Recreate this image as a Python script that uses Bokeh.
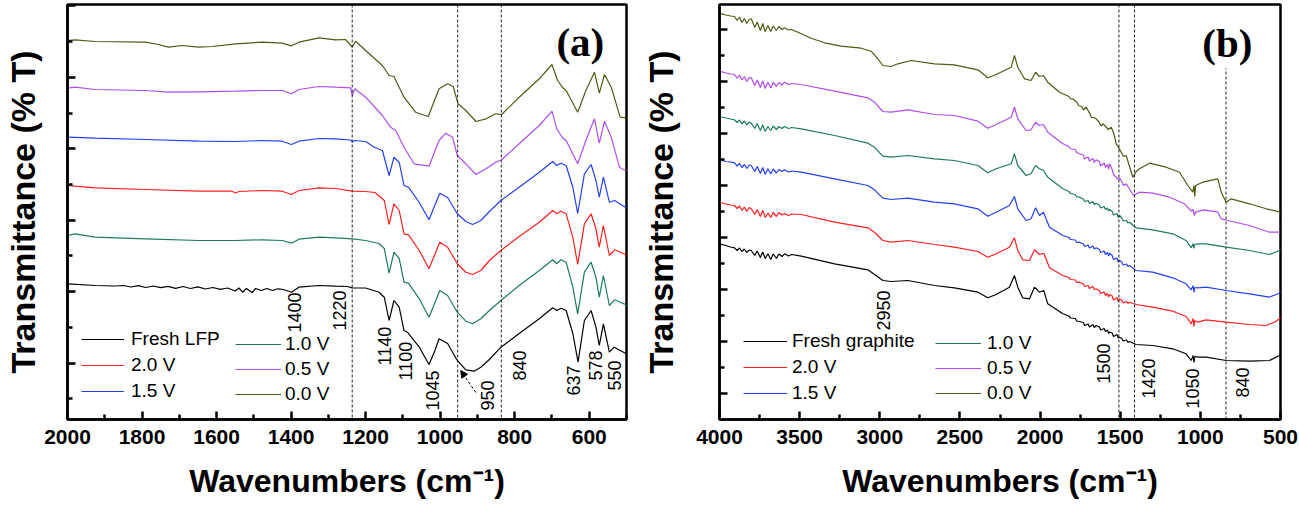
import math
from bokeh.plotting import figure
from bokeh.models import (Range1d, FixedTicker, CustomJSTickFormatter, Span, Legend,
                          LegendItem, Label, Arrow, NormalHead)
from bokeh.layouts import row
from bokeh.embed import file_html
from bokeh.resources import INLINE
from bokeh.core.properties import value

FONT = "Liberation Sans"

# ---------------- Panel (a): LFP cathode, (wavenumber cm-1, transmittance a.u.) ----------------
a_fresh = [(2000,135.7),(1926,134),(1872,133.5),(1850,134),(1830,132.5),(1810,133.8),(1790,132),(1770,133.5),
           (1750,131.8),(1730,133.2),(1710,131.2),(1690,133),(1670,131),(1650,132.7),(1630,130.5),(1610,132),
           (1590,130.2),(1570,131.5),(1550,128.5),(1540,131.5),(1530,127.3),(1520,131),(1505,127),(1495,131),
           (1480,129),(1465,131),(1450,129),(1435,130.7),(1420,130),(1399,127.3),(1379,132.3),(1325,134),
           (1281,133.3),(1249,133),(1236,131.7),(1200,131.5),(1164,127.3),(1150,122.3),(1137,99),(1124,119),
           (1110,112.3),(1097,89),(1088,87.3),(1056,72.3),(1030,55),(1015,68),(1003,80.7),(980,76),(954,59),
           (931,49.7),(909,48.3),(891,52.3),(868,60),(837,72.3),(788,86),(734,100.7),(698,111.7),(687,109),
           (676,111.3),(662,109),(644,86),(630,57.3),(613,99),(595,109),(582,92.3),(573,74),(562,95.7),
           (546,67.3),(533,72.3),(503,66.3),(500,66)]
a_20 = [(2000,234),(1980,233.3),(1926,231.7),(1791,230),(1648,228.3),(1560,228.5),(1549,226.5),(1540,228),
        (1478,229),(1424,228.3),(1399,225),(1379,229),(1325,231.7),(1281,231),(1236,228.3),(1200,228),
        (1175,227),(1150,219),(1137,195),(1124,215.7),(1110,209),(1097,185.7),(1085,184.7),(1056,169),
        (1030,150.7),(1001,177.3),(980,172.3),(954,155.7),(931,147.3),(913,145),(891,149),(868,159),(837,169),
        (788,183),(734,197.3),(698,209),(687,205.7),(676,208.3),(662,205.7),(644,182.3),(631,155),(613,195.7),
        (595,205.7),(582,190.7),(573,172.3),(562,194),(546,164),(532,169.7),(503,165),(500,164)]
a_15 = [(2000,282.3),(1926,281.3),(1791,280),(1648,278.3),(1549,278),(1478,279),(1424,278.3),(1399,275),
        (1379,278.3),(1325,281),(1281,280.7),(1240,279.5),(1236,277.5),(1230,279),(1200,278),(1177,272.3),
        (1155,269),(1137,244),(1124,262.3),(1110,257.3),(1097,234),(1085,232.3),(1056,217),(1030,199.7),
        (1001,226.3),(980,222),(954,205.7),(931,198),(913,195),(891,199),(868,208),(837,219),(788,232.3),
        (734,247.3),(698,258),(687,254),(676,256.3),(662,254),(644,232.3),(631,206),(613,245.7),(595,255),
        (582,239),(573,222.3),(562,242.3),(546,217.3),(532,219),(503,212.3),(500,212)]
a_10 = [(2000,184),(1980,185.7),(1926,182.3),(1791,180.7),(1648,179),(1549,179),(1478,179.7),(1424,179),
        (1399,176.3),(1379,180.3),(1325,182.3),(1281,181.7),(1236,180.7),(1200,179),(1164,176),(1150,171),
        (1137,146.3),(1124,167.3),(1110,161),(1097,137.3),(1085,136.3),(1056,120.7),(1030,102.3),(1001,129),
        (980,124),(954,107.3),(931,98.3),(913,95.7),(891,100.7),(868,109),(837,119),(788,134),(734,149),
        (698,159.7),(687,155.7),(676,159.7),(662,157.3),(644,132.3),(631,105.7),(613,147.3),(595,157.3),
        (582,142.3),(573,122.3),(562,144),(546,114),(532,119.7),(503,115),(500,114)]
a_05 = [(2000,331.3),(1980,332.3),(1926,330),(1791,329),(1729,327.3),(1648,327.7),(1549,328.3),(1478,329),
        (1424,329),(1399,325.7),(1379,330),(1325,333),(1281,332.3),(1240,331.7),(1236,324),(1229,330.7),
        (1200,322.3),(1155,304),(1133,292.3),(1119,289),(1097,272.3),(1070,255.7),(1030,253.3),(1003,279),
        (985,286.3),(967,282.3),(954,264),(931,255.7),(904,245),(877,250.7),(851,257.3),(835,259.7),
        (788,275.7),(734,294),(700,308.3),(687,290.7),(673,282.3),(662,279),(631,255.7),(609,279),
        (586,300.7),(573,276.3),(559,298.3),(541,282.3),(519,252.3),(503,249),(500,249)]
a_00 = [(2000,379),(1980,379.7),(1926,378),(1791,377.3),(1756,375),(1729,372.3),(1693,374),(1648,372.3),
        (1612,373),(1549,375.7),(1478,377.3),(1424,376.3),(1399,373.7),(1379,377.3),(1325,381.7),(1281,379.7),
        (1254,380),(1236,372.3),(1227,378.3),(1200,369),(1155,354),(1137,344),(1124,343),(1097,322.3),
        (1066,307.3),(1032,303),(1003,330.7),(980,335.7),(965,333),(952,315.7),(931,309),(904,298),
        (877,300.7),(851,305.7),(835,305),(788,322.3),(734,340.7),(700,355),(685,339),(671,331.7),(662,329),
        (631,307.3),(609,329),(586,347.3),(573,326.3),(559,345),(541,332.3),(517,302.3),(503,301.7),(500,301.5)]

a_names = ["Fresh LFP", "2.0 V", "1.5 V", "1.0 V", "0.5 V", "0.0 V"]
a_series = [a_fresh, a_20, a_15, a_10, a_05, a_00]
a_vlines = [1236, 953, 836]
a_labels = ["1400", "1220", "1140", "1100", "1045", "950", "840", "637", "578", "550"]
a_label_x = [1392, 1270, 1150, 1094, 1021, 873, 788, 642, 582, 533]
a_label_y = [87, 89, 54, 39, 9, 9, 39, 24, 39, 29]
a_arrow = (904, 27, 945, 49)
a_xticks = [2000, 1800, 1600, 1400, 1200, 1000, 800, 600]
a_xminor = [1900, 1700, 1500, 1300, 1100, 900, 700, 500]
a_yticks = [56.5, 128, 199.5, 271, 342.3, 413.8]
a_yminor = [21, 92, 163.7, 235, 306.3, 378.3]

# ---------------- Panel (b): graphite anode ----------------
b_fresh = [(4000,175.7),(3960,174),(3930,172.5),(3906,171.7),(3890,169),(3875,171.5),(3860,168),(3845,170.5),
           (3830,167),(3815,169.5),(3802,169),(3780,164),(3765,168.5),(3745,162),(3730,167.5),(3715,161),
           (3698,165.7),(3680,160),(3665,165.5),(3645,161),(3630,165.5),(3610,163),(3594,165.7),(3570,163.5),
           (3550,165),(3490,163.3),(3282,155.7),(3074,149.7),(3033,145),(2981,139),(2929,138),(2825,139),
           (2659,134),(2534,131.7),(2388,127.3),(2326,121.7),(2274,125),(2191,132.3),(2160,144),(2139,132.3),
           (2108,121.7),(2066,120.7),(2035,132.3),(2004,127.3),(1977,129),(1952,115.7),(1858,105.7),(1820,103.5),
           (1810,101.5),(1780,101),(1772,98.5),(1754,98),(1730,97),(1722,94),(1700,95.5),(1692,92.5),(1670,95),
           (1662,92),(1650,94),(1630,92.5),(1622,89.5),(1600,91),(1592,88),(1580,89.5),(1572,86),(1567,87.3),
           (1550,86.5),(1542,83),(1520,85),(1512,81.5),(1504,82.3),(1490,81),(1482,78.5),(1460,79.5),(1452,77),
           (1442,78),(1401,75),(1297,74),(1172,70.7),(1089,65.7),(1057,59),(1045,64),(1040,57),(1035,63),
           (1016,62.3),(964,62.3),(839,59),(693,58.3),(569,59),(506,64),(500,66)]
b_20 = [(4000,217.3),(3960,215.5),(3930,214.5),(3906,214),(3890,211),(3875,213.5),(3860,209),(3845,212.5),
        (3830,208),(3815,212),(3802,210.7),(3780,205),(3765,210),(3745,203),(3730,209),(3715,202),(3698,206.3),
        (3680,202),(3665,207),(3645,203),(3630,207),(3610,204.5),(3594,206),(3570,204),(3550,205.5),(3490,205),
        (3282,197.3),(3074,191.7),(3033,187.3),(2981,179),(2929,177.3),(2825,179),(2659,175),(2534,172.3),
        (2388,168),(2326,162.3),(2274,165.7),(2191,172.3),(2160,181.7),(2139,169),(2108,159.7),(2066,159),
        (2035,169.7),(2004,165),(1977,166.3),(1941,151.7),(1858,144),(1820,142),(1810,140),(1780,139.5),
        (1772,137),(1754,137.3),(1730,135.5),(1722,133),(1700,134),(1692,131),(1670,133),(1662,130),(1650,130.7),
        (1630,129),(1622,126),(1600,127.5),(1592,124),(1580,126),(1572,122.5),(1567,125),(1550,123.5),
        (1542,119.5),(1520,122),(1512,118),(1504,120.7),(1490,119),(1482,116.5),(1460,118),(1452,116),
        (1442,117.3),(1401,115),(1297,112.3),(1172,108.3),(1089,103),(1057,95.7),(1045,101),(1040,93),(1035,99),
        (1016,97.3),(964,99.7),(839,97.3),(693,95),(590,94),(537,97.3),(506,100.7),(500,103)]
b_15 = [(4000,259.7),(3960,258),(3930,257.5),(3906,256.7),(3890,253.5),(3875,256),(3860,252),(3845,255),
        (3830,251),(3815,254.5),(3802,254),(3780,248),(3765,253),(3745,246),(3730,252),(3715,245),(3698,250.7),
        (3680,245.5),(3665,250.5),(3645,246.5),(3630,250),(3610,248),(3594,249.7),(3570,247.5),(3550,248.5),
        (3490,247.3),(3282,240.7),(3074,234),(3033,229.7),(2981,221.3),(2929,220),(2825,221.3),(2659,217.3),
        (2534,215.7),(2388,210.7),(2326,203.3),(2274,207.3),(2191,214),(2160,223),(2139,210.7),(2087,199),
        (2056,200.7),(2028,211.7),(2004,204),(1979,207.3),(1941,192.3),(1858,184),(1820,182),(1810,180),
        (1780,179.5),(1772,177),(1754,177.3),(1730,175.5),(1722,173),(1700,174.5),(1692,171.5),(1670,173.5),
        (1662,170.5),(1650,171.7),(1630,170),(1622,167),(1600,168.5),(1592,165),(1580,167),(1572,163.5),
        (1567,166.3),(1550,164),(1542,160),(1520,161.5),(1512,157.5),(1504,159),(1490,157.5),(1482,154.5),
        (1460,155.5),(1452,153),(1442,154),(1401,149),(1297,147.3),(1172,141.7),(1089,135.7),(1057,129.7),
        (1045,134),(1040,127),(1035,132),(1016,131.7),(964,132.3),(839,129),(693,125.7),(569,122.3),
        (506,126.3),(500,128)]
b_10 = [(4000,303),(3960,301.5),(3930,300.5),(3906,299.7),(3890,297),(3875,299.5),(3860,295.5),(3845,298.5),
        (3830,294.5),(3815,297.5),(3802,296.3),(3780,291),(3765,296),(3745,289),(3730,294.5),(3715,288),
        (3698,293),(3680,289),(3665,293.5),(3645,290),(3630,293),(3610,291),(3594,293),(3570,291),(3550,292),
        (3490,290.7),(3282,284),(3074,276.3),(3033,272.3),(2981,263.3),(2929,262.3),(2825,264),(2659,260.7),
        (2534,259),(2388,254),(2326,246.7),(2274,250.7),(2180,255.7),(2160,265.7),(2139,254),(2087,244),
        (2056,245.7),(2028,254),(2004,250.7),(1979,249),(1952,242.3),(1858,230.7),(1820,228),(1810,226),
        (1780,225),(1772,222.5),(1754,222.3),(1730,220.5),(1722,218),(1700,219),(1692,216),(1670,218),
        (1662,215),(1650,216.3),(1630,214.5),(1622,211.5),(1600,213),(1592,210),(1580,211.5),(1572,208.5),
        (1567,210),(1550,208),(1542,204.5),(1520,206),(1512,202),(1504,204),(1490,201.5),(1482,198.5),
        (1460,199),(1452,196.5),(1442,197.3),(1401,191.7),(1297,189.7),(1172,185.7),(1089,179),(1057,171.7),
        (1045,176),(1040,171),(1035,175),(1016,175.7),(964,175.7),(839,172.3),(693,169),(569,165),(506,169),
        (500,171)]
b_05 = [(4000,348.3),(3960,346.5),(3930,345.5),(3906,345),(3890,341),(3875,344.5),(3860,339.5),(3845,343),
        (3830,338),(3815,342),(3802,341.7),(3780,334),(3765,339.5),(3745,332),(3730,338.5),(3715,331),
        (3698,337.3),(3680,331.5),(3665,337),(3645,333),(3630,337),(3610,334.5),(3594,337.3),(3570,335),
        (3550,336),(3490,335),(3282,328.3),(3074,321.7),(3033,317.3),(2981,308),(2929,307.3),(2825,309.7),
        (2659,305),(2534,304),(2388,298.3),(2326,291.3),(2274,295),(2180,302.3),(2160,312.3),(2139,300.7),
        (2087,289),(2056,289.7),(2028,297.3),(2004,294),(1979,295),(1952,287.3),(1858,275.7),(1820,273),
        (1810,270.5),(1780,270),(1772,267),(1754,265.7),(1730,264.5),(1722,260.5),(1700,262.5),(1692,258.5),
        (1670,261),(1662,257),(1650,259.7),(1630,258),(1622,253.5),(1600,256.5),(1592,252),(1580,255),
        (1572,250.5),(1567,255.7),(1550,250),(1542,245),(1525,242.3),(1512,240),(1504,241.5),(1490,238),
        (1480,234),(1463,235.7),(1440,230),(1417,224),(1380,227.3),(1297,226.3),(1192,222.3),(1099,215.7),
        (1057,208.3),(1045,210),(1037,204),(1030,207.3),(978,209.7),(891,207.3),(870,200.7),(830,199),
        (693,194),(569,187.3),(500,187.3)]
b_00 = [(4000,406.3),(3960,404.5),(3930,403.5),(3906,403),(3890,399),(3875,402.5),(3860,397),(3845,401),
        (3830,396),(3815,400),(3802,400.7),(3780,392),(3765,397.5),(3745,389),(3730,396),(3715,388),(3698,394),
        (3680,388),(3665,393.5),(3645,389),(3630,393),(3610,390),(3594,391.7),(3570,389.5),(3550,390),
        (3511,387.3),(3428,381.3),(3345,376.7),(3241,373.3),(3116,371.3),(3054,368.3),(3012,360.7),(2981,354),
        (2929,353),(2887,355.7),(2804,359),(2659,355.7),(2534,354.7),(2388,349.7),(2326,341.7),(2274,345),
        (2180,352.3),(2160,364),(2139,352.3),(2097,340.7),(2056,339),(2028,347.3),(2004,343),(1979,344),
        (1952,337.3),(1879,327.3),(1820,323),(1810,320.5),(1796,320.7),(1770,317),(1760,314),(1740,313),
        (1730,309.5),(1712,312.3),(1690,306),(1680,302),(1665,302),(1650,300.7),(1630,297),(1620,293.5),
        (1608,295.7),(1590,293),(1575,290),(1556,292.3),(1545,288),(1535,283),(1525,275.7),(1510,272),
        (1494,267.3),(1480,263),(1463,264),(1440,252),(1421,242.3),(1400,248),(1380,250.7),(1317,256.3),
        (1213,252.3),(1130,247.3),(1078,234),(1047,227.3),(1040,234),(1035,223),(1030,234),(985,237.3),
        (891,240.7),(870,227.3),(839,217.3),(808,220.7),(693,215.7),(589,210.7),(500,207.3)]

b_names = ["Fresh graphite", "2.0 V", "1.5 V", "1.0 V", "0.5 V", "0.0 V"]
b_series = [b_fresh, b_20, b_15, b_10, b_05, b_00]
b_vlines = [1508, 1411]
b_partial_vline = (840, 0, 351)
b_labels = ["2950", "1500", "1420", "1050", "840"]
b_label_x = [2974, 1604, 1321, 1046, 735]
b_label_y = [89, 36, 21, 11, 22]
b_xticks = [4000, 3500, 3000, 2500, 2000, 1500, 1000, 500]
b_xminor = [3750, 3250, 2750, 2250, 1750, 1250, 750]
b_yticks = [26, 78, 130, 182, 234, 286, 338, 389.7]
b_yminor = [52, 104, 156, 208, 260, 312, 364]

COLORS = ["#000000", "#ff1f1f", "#2440f0", "#1e7b58", "#b04ef0", "#4b5c14"]
YTITLE = "Transmittance (% T)"


def make_fig(xr, width, frame_w, min_left, min_right, xt, xm, yt, ym, ylab_standoff):
    p = figure(width=width, height=505, frame_width=frame_w, x_range=Range1d(*xr),
               y_range=Range1d(0, 415), output_backend="svg", toolbar_location=None,
               min_border_left=min_left, min_border_right=min_right, min_border_top=4,
               min_border_bottom=86, background_fill_color="white", border_fill_color="white")
    p.grid.visible = False
    p.outline_line_color = "black"
    p.outline_line_width = 2.5
    for ax in (p.xaxis, p.yaxis):
        ax.axis_line_width = 2.5
        ax.major_tick_line_width = 2.5
        ax.minor_tick_line_width = 2.5
        ax.major_tick_in = 8
        ax.major_tick_out = 0
        ax.minor_tick_in = 5
        ax.minor_tick_out = 0
    p.xaxis.ticker = FixedTicker(ticks=xt, minor_ticks=xm)
    p.yaxis.ticker = FixedTicker(ticks=yt, minor_ticks=ym)
    p.xaxis.major_label_text_font = FONT
    p.xaxis.major_label_text_font_size = "21px"
    p.xaxis.major_label_text_font_style = "bold"
    p.xaxis.major_label_text_color = "black"
    p.xaxis.major_label_standoff = 10
    p.xaxis.axis_label = "Wavenumbers (cm\u207b\u00b9)"
    p.xaxis.axis_label_text_font = FONT
    p.xaxis.axis_label_text_font_size = "32px"
    p.xaxis.axis_label_text_font_style = "bold"
    p.xaxis.axis_label_text_color = "black"
    p.xaxis.axis_label_standoff = 16
    p.yaxis.formatter = CustomJSTickFormatter(code="return ''")
    p.yaxis.major_label_standoff = 0
    p.yaxis.axis_label = YTITLE
    p.yaxis.axis_label_text_font = FONT
    p.yaxis.axis_label_text_font_size = "34px"
    p.yaxis.axis_label_text_font_style = "bold"
    p.yaxis.axis_label_text_color = "black"
    p.yaxis.axis_label_standoff = ylab_standoff
    return p


def add_curves(p, series):
    rs = []
    for s, c in zip(series, COLORS):
        xs = [q[0] for q in s]
        ys = [q[1] for q in s]
        rs.append(p.line(xs, ys, line_color=c, line_width=1.2))
    return rs


def add_legend(p, renderers, names, loc, gw, standoff, spacing):
    lg = Legend(items=[LegendItem(label=n, renderers=[r]) for n, r in zip(names, renderers)],
                location=loc, orientation="vertical", glyph_width=gw, glyph_height=20,
                label_height=20, label_standoff=standoff, spacing=spacing, padding=0, margin=0,
                border_line_color=None, background_fill_alpha=0, label_text_font=FONT,
                label_text_font_size="19px", label_text_color="black")
    p.add_layout(lg)


def add_peak_labels(p, texts, xs, ys):
    p.text(x=xs, y=ys, text=texts, angle=math.pi / 2, text_align="left", text_baseline="middle",
           text_font=value(FONT), text_font_size="18px", text_color="black")


DASH = dict(line_color="#222222", line_dash="3 2", line_width=1)

# ---- panel (a)
pa = make_fig((2000, 500), 629, 559, 66, 4, a_xticks, a_xminor, a_yticks, a_yminor, 26)
for v in a_vlines:
    pa.add_layout(Span(location=v, dimension="height", **DASH))
ra = add_curves(pa, a_series)
add_legend(pa, ra[:3], a_names[:3], (14, 17), 43, 7, 4)
add_legend(pa, ra[3:], a_names[3:], (168, 14), 46, 4, 3)
add_peak_labels(pa, a_labels, a_label_x, a_label_y)
pa.add_layout(Arrow(end=NormalHead(size=7, fill_color="black", line_color="black"),
                    x_start=a_arrow[0], y_start=a_arrow[1], x_end=a_arrow[2], y_end=a_arrow[3],
                    line_dash="3 2", line_width=1, line_color="black"))
pa.add_layout(Label(x=624, y=378, text="(a)", text_font="Liberation Serif", text_font_style="bold",
                    text_font_size="41px", text_align="center", text_baseline="middle",
                    text_color="black"))

# ---- panel (b)
pb = make_fig((4000, 500), 669, 561, 89, 19, b_xticks, b_xminor, b_yticks, b_yminor, 40)
for v in b_vlines:
    pb.add_layout(Span(location=v, dimension="height", **DASH))
pb.segment(x0=[b_partial_vline[0]], y0=[b_partial_vline[1]], x1=[b_partial_vline[0]],
           y1=[b_partial_vline[2]], **DASH)
rb = add_curves(pb, b_series)
add_legend(pb, rb[:3], b_names[:3], (24, 15), 44, 5, 4)
add_legend(pb, rb[3:], b_names[3:], (216, 15), 46, 6, 3)
add_peak_labels(pb, b_labels, b_label_x, b_label_y)
pb.add_layout(Label(x=832, y=377, text="(b)", text_font="Liberation Serif", text_font_style="bold",
                    text_font_size="41px", text_align="center", text_baseline="middle",
                    text_color="black"))

layout = row(pa, pb)
open("out.html", "w").write(file_html(layout, INLINE))
